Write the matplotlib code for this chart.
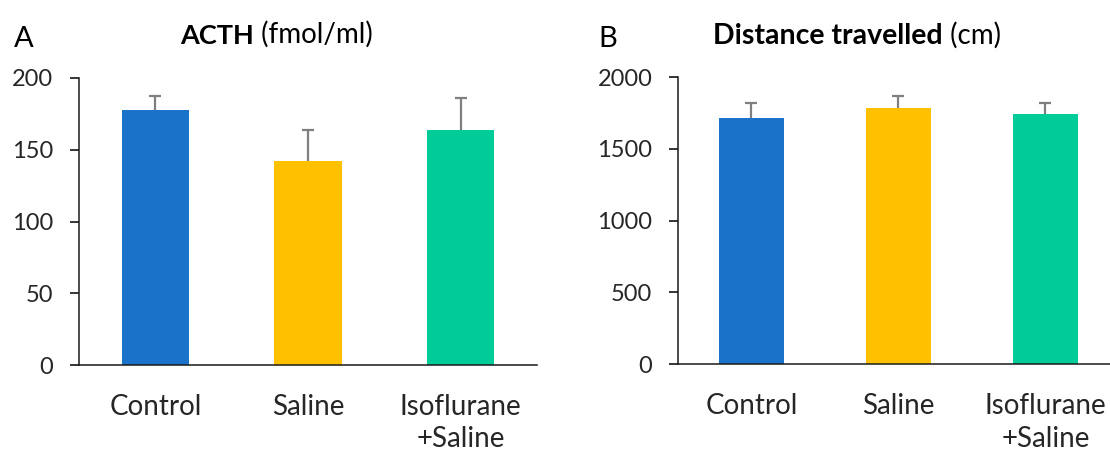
import matplotlib
matplotlib.use("Agg")
import matplotlib.pyplot as plt

# --- Data ---
groups = ["Control", "Saline", "Isoflurane\n+Saline"]
colors = ["#1a73c9", "#ffc000", "#00cc99"]

acth_mean = [178, 142, 164]
acth_err = [9.5, 21.5, 22]
acth_ticks = [0, 50, 100, 150, 200]

dist_mean = [1716, 1786, 1740]
dist_err = [101, 82, 77]
dist_ticks = [0, 500, 1000, 1500, 2000]

plt.rcParams["font.family"] = ["Lato", "DejaVu Sans"]

fig = plt.figure(figsize=(11.1, 4.54), dpi=100)


def panel(rect, means, errs, ticks, letter, bold, rest, title_x, letter_x, bold_size):
    ax = fig.add_axes(rect)
    x = range(len(groups))
    # symmetric bars drawn under the columns, so only the upper half shows
    ax.errorbar(x, means, yerr=errs, fmt="none", ecolor="#7f7f7f",
                elinewidth=1.6, capsize=4.5, capthick=1.6, zorder=1)
    ax.bar(x, means, width=0.44, color=colors, zorder=2)
    ax.set_xlim(-0.5, 2.5)
    ax.set_ylim(ticks[0], ticks[-1])
    ax.set_yticks(ticks)
    ax.set_xticks(list(x))
    ax.set_xticklabels(groups, fontsize=20, color="#262626", linespacing=1.3)
    ax.tick_params(axis="x", length=0, pad=21)
    ax.tick_params(axis="y", length=6.5, width=1.1, pad=12, labelsize=17,
                   labelcolor="#262626", direction="out")
    for s in ["top", "right"]:
        ax.spines[s].set_visible(False)
    for s in ["left", "bottom"]:
        ax.spines[s].set_linewidth(1.1)
        ax.spines[s].set_color("#1a1a1a")

    # panel letter and mixed-weight title
    fig.text(letter_x, 0.897, letter, fontsize=21, va="baseline", ha="left")
    t = fig.text(title_x, 0.903, bold, fontsize=bold_size, fontweight="bold",
                 va="baseline", ha="left")
    ax.annotate(rest, xy=(1, 0), xycoords=t, va="bottom", ha="left",
                fontsize=20)
    return ax


panel([0.0712, 0.196, 0.4126, 0.6322], acth_mean, acth_err, acth_ticks,
      "A", "ACTH", " (fmol/ml)", 180 / 1110, 14 / 1110, 19.5)
panel([0.6108, 0.198, 0.3973, 0.6322], dist_mean, dist_err, dist_ticks,
      "B", "Distance travelled", " (cm)", 713 / 1110, 598 / 1110, 20.5)

fig.savefig("out.png", dpi=100)
